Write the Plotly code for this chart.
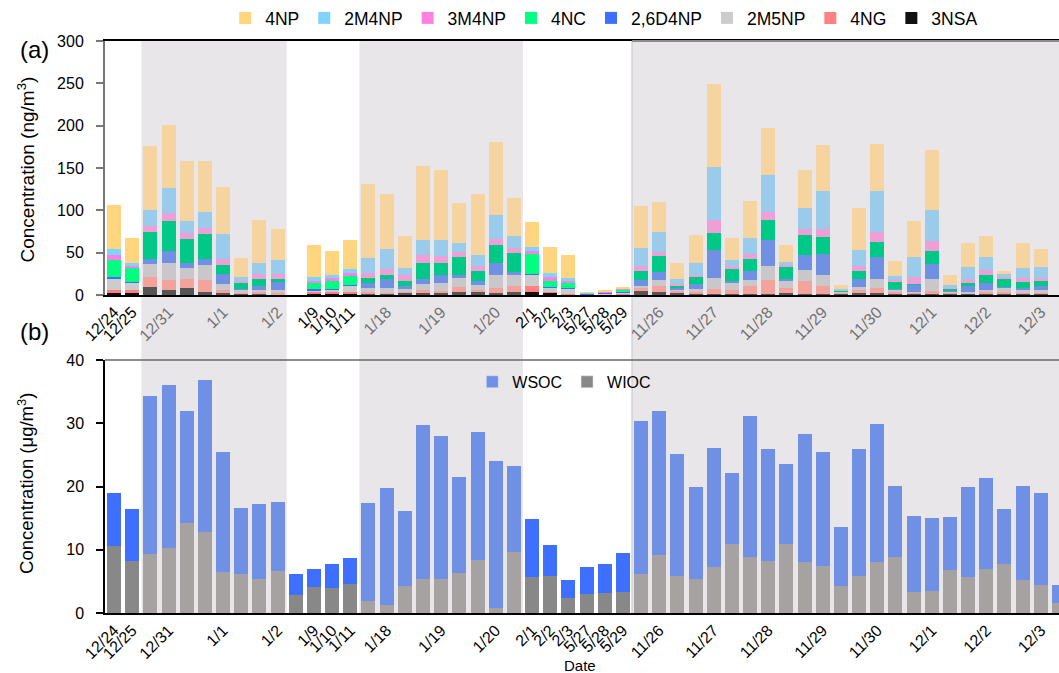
import plotly.graph_objects as go

# ---- sample axis: 53 consecutive samples, labels at selected samples ----
n_samples = 53
tick_pos = [0, 1, 3, 6, 9, 11, 12, 13, 15, 18, 21, 23, 24, 25, 26, 27, 28,
            30, 33, 36, 39, 42, 45, 48, 51]
tick_labels = ["12/24", "12/25", "12/31", "1/1", "1/2", "1/9", "1/10", "1/11",
               "1/18", "1/19", "1/20", "2/1", "2/2", "2/3", "5/27", "5/28", "5/29",
               "11/26", "11/27", "11/28", "11/29", "11/30", "12/1", "12/2", "12/3"]

# ---- (a) nitroaromatic compounds, ng/m3 (None = no sample) ----
nsa_3 = [2.4, 2.8, 9.1, 5.9, 7.9, 3.5, 2.0, 1.2, 1.2, 0.8, None, 1.6, 2.0, 1.2, 1.2, 1.2,
         2.4, 2.0, 3.2, 3.2, 3.2, 2.4, 3.2, 3.9, 2.4, 0.8, 0.3, 0.4, 0.8, 4.4, 3.2, 2.4,
         1.6, 1.6, 1.6, 1.6, 1.6, 2.4, 1.6, 1.2, 1.2, 2.4, 2.8, 1.2, 0.8, 1.2, 1.6, 1.2,
         1.2, 1.2, 1.2, 1.2, None]
ng_4 = [3.5, 2.8, 12.2, 11.4, 10.6, 14.2, 3.5, 1.6, 2.0, 1.2, None, 1.6, 1.2, 2.8, 2.0, 1.6,
        1.2, 3.5, 1.6, 6.3, 2.4, 5.5, 7.1, 6.7, 1.6, 0.4, 0.3, 0.4, 1.2, 3.9, 7.1, 2.4,
        2.0, 5.5, 4.3, 8.7, 15.8, 6.3, 14.6, 9.1, 1.6, 3.2, 5.5, 3.2, 2.4, 3.2, 0.8, 0.8,
        2.0, 2.4, 1.6, 1.6, None]
m5np_2 = [13.0, 8.7, 15.0, 20.5, 13.8, 17.3, 7.9, 3.9, 2.4, 3.9, None, 2.4, 3.5, 6.7, 5.1, 5.1,
          3.9, 7.5, 9.1, 11.0, 6.3, 15.4, 13.0, 13.0, 4.3, 5.9, 0.5, 0.8, 0.8, 2.8, 7.9, 1.5,
          3.5, 13.4, 8.7, 7.1, 16.6, 7.9, 13.4, 13.4, 0.8, 4.3, 11.0, 2.0, 0.8, 15.0, 2.0, 2.0,
          2.8, 5.1, 3.2, 2.8, None]
d4np_26 = [2.4, 1.2, 5.9, 14.6, 5.1, 7.5, 11.0, 0.8, 5.1, 9.1, None, 1.2, 0.8, 1.2, 5.5, 11.0,
           2.8, 6.3, 10.2, 3.5, 5.1, 14.6, 3.9, 1.2, 1.2, 0.8, 0.6, 1.2, 0.8, 7.1, 9.5, 1.5,
           5.9, 32.3, 2.0, 10.6, 31.5, 2.0, 17.7, 24.8, 0.8, 8.7, 25.2, 0.8, 8.7, 17.7, 0.4, 6.3,
           8.3, 0.8, 2.0, 4.7, None]
nc_4 = [20.5, 15.8, 32.3, 35.1, 28.8, 29.9, 11.0, 7.1, 8.3, 3.9, None, 7.9, 9.5, 10.2, 6.7, 4.7,
        6.3, 18.1, 14.2, 21.3, 11.4, 21.7, 22.5, 23.2, 7.5, 6.3, 0.2, 0.4, 2.4, 10.2, 18.5, 3.5,
        8.3, 20.1, 14.2, 14.2, 22.5, 14.2, 23.6, 19.7, 0.8, 9.9, 17.7, 8.3, 0.8, 15.0, 2.8, 4.3,
        9.5, 9.9, 7.9, 6.3, None]
m4np_3 = [5.5, 2.4, 7.5, 9.5, 7.1, 7.1, 7.5, 2.4, 5.9, 5.9, None, 2.0, 2.8, 3.5, 5.9, 6.7,
          6.7, 9.9, 7.5, 5.9, 5.9, 6.7, 6.3, 3.5, 3.9, 2.4, 0.3, 0.4, 1.2, 5.9, 5.1, 1.5,
          2.8, 16.2, 3.2, 6.7, 10.2, 2.4, 6.7, 10.2, 0.4, 5.9, 11.8, 2.0, 8.3, 11.4, 0.8, 4.7,
          5.5, 2.0, 4.7, 3.9, None]
m4np_2 = [6.7, 3.9, 18.1, 29.2, 14.6, 18.9, 28.8, 4.7, 12.6, 16.9, None, 4.3, 4.3, 5.5, 16.9, 24.0,
          9.1, 17.3, 19.7, 10.6, 13.4, 28.4, 13.4, 5.1, 5.5, 3.9, 0.2, 0.6, 0.8, 20.6, 22.9, 6.5,
          13.4, 61.5, 7.1, 18.5, 43.4, 4.3, 25.6, 44.1, 1.6, 19.3, 48.9, 5.1, 23.6, 36.3, 3.9, 13.4,
          15.8, 2.8, 11.4, 12.2, None]
np_4 = [52.4, 30.0, 75.7, 74.9, 70.5, 59.5, 56.3, 21.7, 51.2, 36.6, None, 38.6, 27.6, 33.9, 87.9, 65.4,
        37.4, 88.3, 82.7, 46.5, 71.3, 85.9, 45.7, 29.6, 29.9, 26.4, 0.3, 1.3, 1.6, 50.0, 35.1, 18.0,
        33.1, 98.1, 26.0, 44.1, 55.6, 20.1, 44.1, 54.4, 4.3, 49.3, 55.6, 17.3, 42.2, 70.9, 11.4, 28.4,
        24.4, 3.9, 29.2, 22.1, None]

# ---- (b) organic carbon, ug/m3 ----
wioc = [10.6, 8.2, 9.3, 10.2, 14.2, 12.8, 6.5, 6.2, 5.4, 6.7, 2.9, 4.1, 3.9, 4.6, 1.9, 1.3,
        4.3, 5.4, 5.3, 6.4, 8.4, 0.8, 9.7, 5.7, 5.8, 2.4, 3.0, 3.2, 3.3, 6.2, 9.2, 5.9,
        5.3, 7.2, 10.9, 8.8, 8.2, 10.9, 8.1, 7.5, 4.3, 5.9, 8.0, 8.8, 3.3, 3.5, 6.8, 5.7,
        7.0, 7.7, 5.2, 4.5, 1.6]
wsoc = [8.4, 8.2, 25.0, 25.8, 17.7, 24.0, 18.9, 10.4, 11.9, 10.8, 3.2, 2.9, 3.9, 4.1, 15.5, 18.4,
        11.9, 24.3, 22.7, 15.1, 20.2, 23.2, 13.5, 9.1, 4.9, 2.8, 4.2, 4.6, 6.2, 24.2, 22.7, 19.2,
        14.6, 18.9, 11.2, 22.3, 17.8, 12.7, 20.2, 17.9, 9.3, 20.0, 21.9, 11.3, 12.0, 11.5, 8.4, 14.3,
        14.4, 8.7, 14.9, 14.5, 2.9]

# sampling periods drawn on a grey background (first, last sample index)
shaded_periods = [(2, 9), (14, 22), (29, 52)]

FONT = "Liberation Sans, Arial, sans-serif"
SHADE = "#E9E6E9"
A_BOTTOM = 0.556   # lower edge of panel (a) in paper units
B_TOP = 0.4423     # upper edge of panel (b) in paper units

def in_shade(i):
    return any(a <= i <= b for a, b in shaded_periods)

# (name, values, normal colour, colour inside the grey periods), bottom to top
nac_series = [
    ("3NSA", nsa_3, "#111111", "#555555"),
    ("4NG", ng_4, "#FF8080", "#F3A29C"),
    ("2M5NP", m5np_2, "#CCCCCC", "#C9C7C9"),
    ("2,6D4NP", d4np_26, "#3F6FFF", "#7090E3"),
    ("4NC", nc_4, "#00FF80", "#00C886"),
    ("3M4NP", m4np_3, "#FF80E3", "#EEA0D6"),
    ("2M4NP", m4np_2, "#80D3FF", "#9BCBEA"),
    ("4NP", np_4, "#FFD580", "#F6D49F"),
]
oc_series = [
    ("WIOC", wioc, "#888888", "#A6A2A2"),
    ("WSOC", wsoc, "#3F6FFF", "#7090E6"),
]

xs = list(range(n_samples))
fig = go.Figure()

for name, vals, c_norm, c_shade in nac_series:
    fig.add_trace(go.Bar(
        x=xs, y=vals, name=name, xaxis="x", yaxis="y", legend="legend",
        width=0.77,
        marker=dict(color=[c_shade if in_shade(i) else c_norm for i in xs], line=dict(width=0)),
    ))

for name, vals, c_norm, c_shade in oc_series:
    fig.add_trace(go.Bar(
        x=xs, y=vals, name=name, xaxis="x2", yaxis="y2", showlegend=False,
        width=0.77,
        marker=dict(color=[c_shade if in_shade(i) else c_norm for i in xs], line=dict(width=0)),
    ))

# legend entries for panel (b)
for name, col in [("WSOC", "#7090E6"), ("WIOC", "#888888")]:
    fig.add_trace(go.Bar(x=[None], y=[None], name=name, marker_color=col,
                         xaxis="x2", yaxis="y2", legend="legend2"))

# grey background of the sampling periods, spanning both panels
for a, b in shaded_periods:
    fig.add_shape(type="rect", xref="x", yref="paper", x0=a - 0.5, x1=min(b + 0.5, 52),
                  y0=0, y1=1, fillcolor=SHADE, line=dict(width=0), layer="below")

# left edge of the last period and its top border
last_a = shaded_periods[-1][0] - 0.5
fig.add_shape(type="line", xref="x", yref="paper", x0=last_a, x1=last_a, y0=0, y1=1,
              line=dict(color="#C4C2C4", width=1), layer="below")
fig.add_shape(type="line", xref="x", yref="paper", x0=last_a, x1=52, y0=1, y1=1,
              line=dict(color="#8C8C8C", width=2), layer="above")
# upper border of panel (b)
fig.add_shape(type="line", xref="paper", yref="paper", x0=0, x1=1, y0=B_TOP, y1=B_TOP,
              line=dict(color="#666666", width=1.5), layer="above")

ticktext_a = [f"<span style='color:#707070'>{t}</span>" if in_shade(p) else t
              for p, t in zip(tick_pos, tick_labels)]

x_common = dict(range=[-0.5, 52], tickvals=tick_pos, tickangle=-45, ticks="",
                showline=True, linecolor="black", linewidth=1.5,
                showgrid=False, zeroline=False,
                tickfont=dict(family=FONT, size=16, color="black"))

fig.update_layout(
    width=1059, height=673,
    margin=dict(l=105, r=0, t=41, b=60),
    paper_bgcolor="white", plot_bgcolor="rgba(0,0,0,0)",
    barmode="stack",
    font=dict(family=FONT, color="black"),
    xaxis=dict(anchor="y", domain=[0, 1], ticktext=ticktext_a, mirror=True, **x_common),
    xaxis2=dict(anchor="y2", domain=[0, 1], ticktext=tick_labels, mirror=False, **x_common),
    yaxis=dict(domain=[A_BOTTOM, 1], range=[0, 300], tickvals=[0, 50, 100, 150, 200, 250, 300],
               ticks="outside", ticklen=7, tickcolor="#777777", tickwidth=1.5,
               ticklabelstandoff=9,
               showline=True, linecolor="#777777", linewidth=2, showgrid=False, zeroline=False,
               tickfont=dict(family=FONT, size=16)),
    yaxis2=dict(domain=[0, B_TOP], range=[0, 40], tickvals=[0, 10, 20, 30, 40],
                ticks="outside", ticklen=7, tickcolor="black", tickwidth=1.5,
                ticklabelstandoff=9,
                showline=True, linecolor="black", linewidth=1.5, showgrid=False, zeroline=False,
                tickfont=dict(family=FONT, size=16)),
    legend=dict(orientation="h", x=0.126, xanchor="left", y=1.072, yanchor="top",
                traceorder="reversed", font=dict(family=FONT, size=17.5),
                bgcolor="rgba(0,0,0,0)", itemwidth=30),
    legend2=dict(orientation="h", x=0.385, xanchor="left", y=0.404, yanchor="middle",
                 traceorder="normal",
                 font=dict(family=FONT, size=16), bgcolor="rgba(0,0,0,0)"),
    showlegend=True,
)

for text, y in [("(a)", 0.986), ("(b)", 0.493)]:
    fig.add_annotation(text=text, x=-0.074, y=y, xref="paper", yref="paper",
                       showarrow=False, xanchor="center", yanchor="middle",
                       font=dict(family=FONT, size=24, color="black"))

fig.add_annotation(text="Concentration (ng/m<sup>3</sup>)", x=-0.083, y=0.775,
                   xref="paper", yref="paper", textangle=-90, showarrow=False,
                   xanchor="center", yanchor="middle", font=dict(family=FONT, size=19))
fig.add_annotation(text="Concentration (μg/m<sup>3</sup>)", x=-0.083, y=0.227,
                   xref="paper", yref="paper", textangle=-90, showarrow=False,
                   xanchor="center", yanchor="middle", font=dict(family=FONT, size=18.5))
fig.add_annotation(text="Date", x=0.498, y=-0.091, xref="paper", yref="paper",
                   showarrow=False, xanchor="center", yanchor="middle",
                   font=dict(family=FONT, size=15))

fig.write_html("out.html")
